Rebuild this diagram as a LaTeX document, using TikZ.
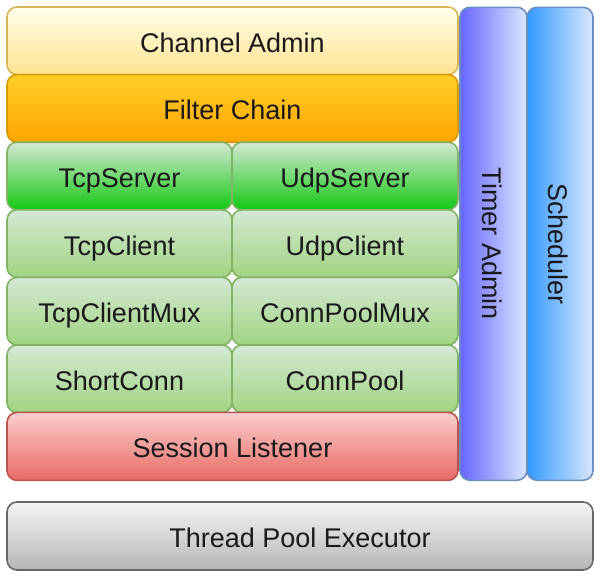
\documentclass[tikz,border=0pt]{standalone}
\usepackage{fontspec}
\setmainfont{Liberation Sans}
\usepackage{xcolor}
\usepackage{tikz}
\usetikzlibrary{positioning}
\definecolor{adminborder}{HTML}{D6B656}
\definecolor{filterborder}{HTML}{D79B00}
\definecolor{netborder}{HTML}{82B366}
\definecolor{sessborder}{HTML}{B85450}
\definecolor{sideborder}{HTML}{6C8EBF}
\definecolor{poolborder}{HTML}{666666}
\tikzset{
  label text/.style={font=\fontsize{27}{31}\selectfont, text=black!90, text height=25pt, text depth=2pt},
  layer/.style={draw, rounded corners=10pt, line width=1.6pt, inner sep=0pt, outer sep=0pt, align=center, label text},
  adminbox/.style={layer, draw=adminborder, top color=yellow!8!white, bottom color={rgb,255:red,255;green,226;blue,145}},
  filterbox/.style={layer, draw=filterborder, top color={rgb,255:red,255;green,206;blue,40}, bottom color={rgb,255:red,255;green,165;blue,0}},
  serverbox/.style={layer, draw=netborder, top color={rgb,255:red,213;green,232;blue,212}, bottom color={rgb,255:red,20;green,200;blue,20}},
  netbox/.style={layer, draw=netborder, top color={rgb,255:red,213;green,232;blue,212}, bottom color={rgb,255:red,160;green,212;blue,130}},
  sessbox/.style={layer, draw=sessborder, top color={rgb,255:red,248;green,206;blue,204}, bottom color={rgb,255:red,234;green,107;blue,102}},
  sidebox/.style={layer, draw=sideborder, right color={rgb,255:red,218;green,232;blue,252}},
  poolbox/.style={layer, draw=poolborder, top color={rgb,255:red,245;green,245;blue,245}, bottom color={rgb,255:red,182;green,182;blue,182}}
}
\begin{document}
\begin{tikzpicture}[x=1pt,y=-1pt]
  \useasboundingbox[fill=white] (0,0) rectangle (600,576);
  % upper layers
  \node[adminbox, minimum width=451pt, minimum height=67.6pt] (chan) at (232.5,40.8) {Channel Admin};
  \node[filterbox, minimum width=451pt, minimum height=67.6pt] (filter) at (232.5,108.4) {Filter Chain};
  % tcp / udp columns
  \node[serverbox, minimum width=225pt, minimum height=67.6pt] (tcpsrv) at (119.5,176) {TcpServer};
  \node[serverbox, minimum width=226pt, minimum height=67.6pt] (udpsrv) at (345,176) {UdpServer};
  \node[netbox, minimum width=225pt, minimum height=67.6pt] (tcpcli) at (119.5,243.6) {TcpClient};
  \node[netbox, minimum width=226pt, minimum height=67.6pt] (udpcli) at (345,243.6) {UdpClient};
  \node[netbox, minimum width=225pt, minimum height=67.6pt] (tcpmux) at (119.5,311.2) {TcpClientMux};
  \node[netbox, minimum width=226pt, minimum height=67.6pt] (poolmux) at (345,311.2) {ConnPoolMux};
  \node[netbox, minimum width=225pt, minimum height=67.6pt] (short) at (119.5,378.8) {ShortConn};
  \node[netbox, minimum width=226pt, minimum height=67.6pt] (connpool) at (345,378.8) {ConnPool};
  \node[sessbox, minimum width=451pt, minimum height=68pt] (session) at (232.5,446.4) {Session Listener};
  % side columns
  \node[sidebox, left color={rgb,255:red,102;green,102;blue,255}, minimum width=67pt, minimum height=473pt] (timer) at (493.5,243.8) {};
  \node[rotate=-90, label text] (timertext) at (timer.center) {Timer Admin};
  \node[sidebox, left color={rgb,255:red,51;green,153;blue,255}, minimum width=66pt, minimum height=473pt] (sched) at (560,243.8) {};
  \node[rotate=-90, label text] (schedtext) at (sched.center) {Scheduler};
  % executor
  \node[poolbox, minimum width=586pt, minimum height=68pt] (pool) at (300,536) {Thread Pool Executor};
\end{tikzpicture}
\end{document}
